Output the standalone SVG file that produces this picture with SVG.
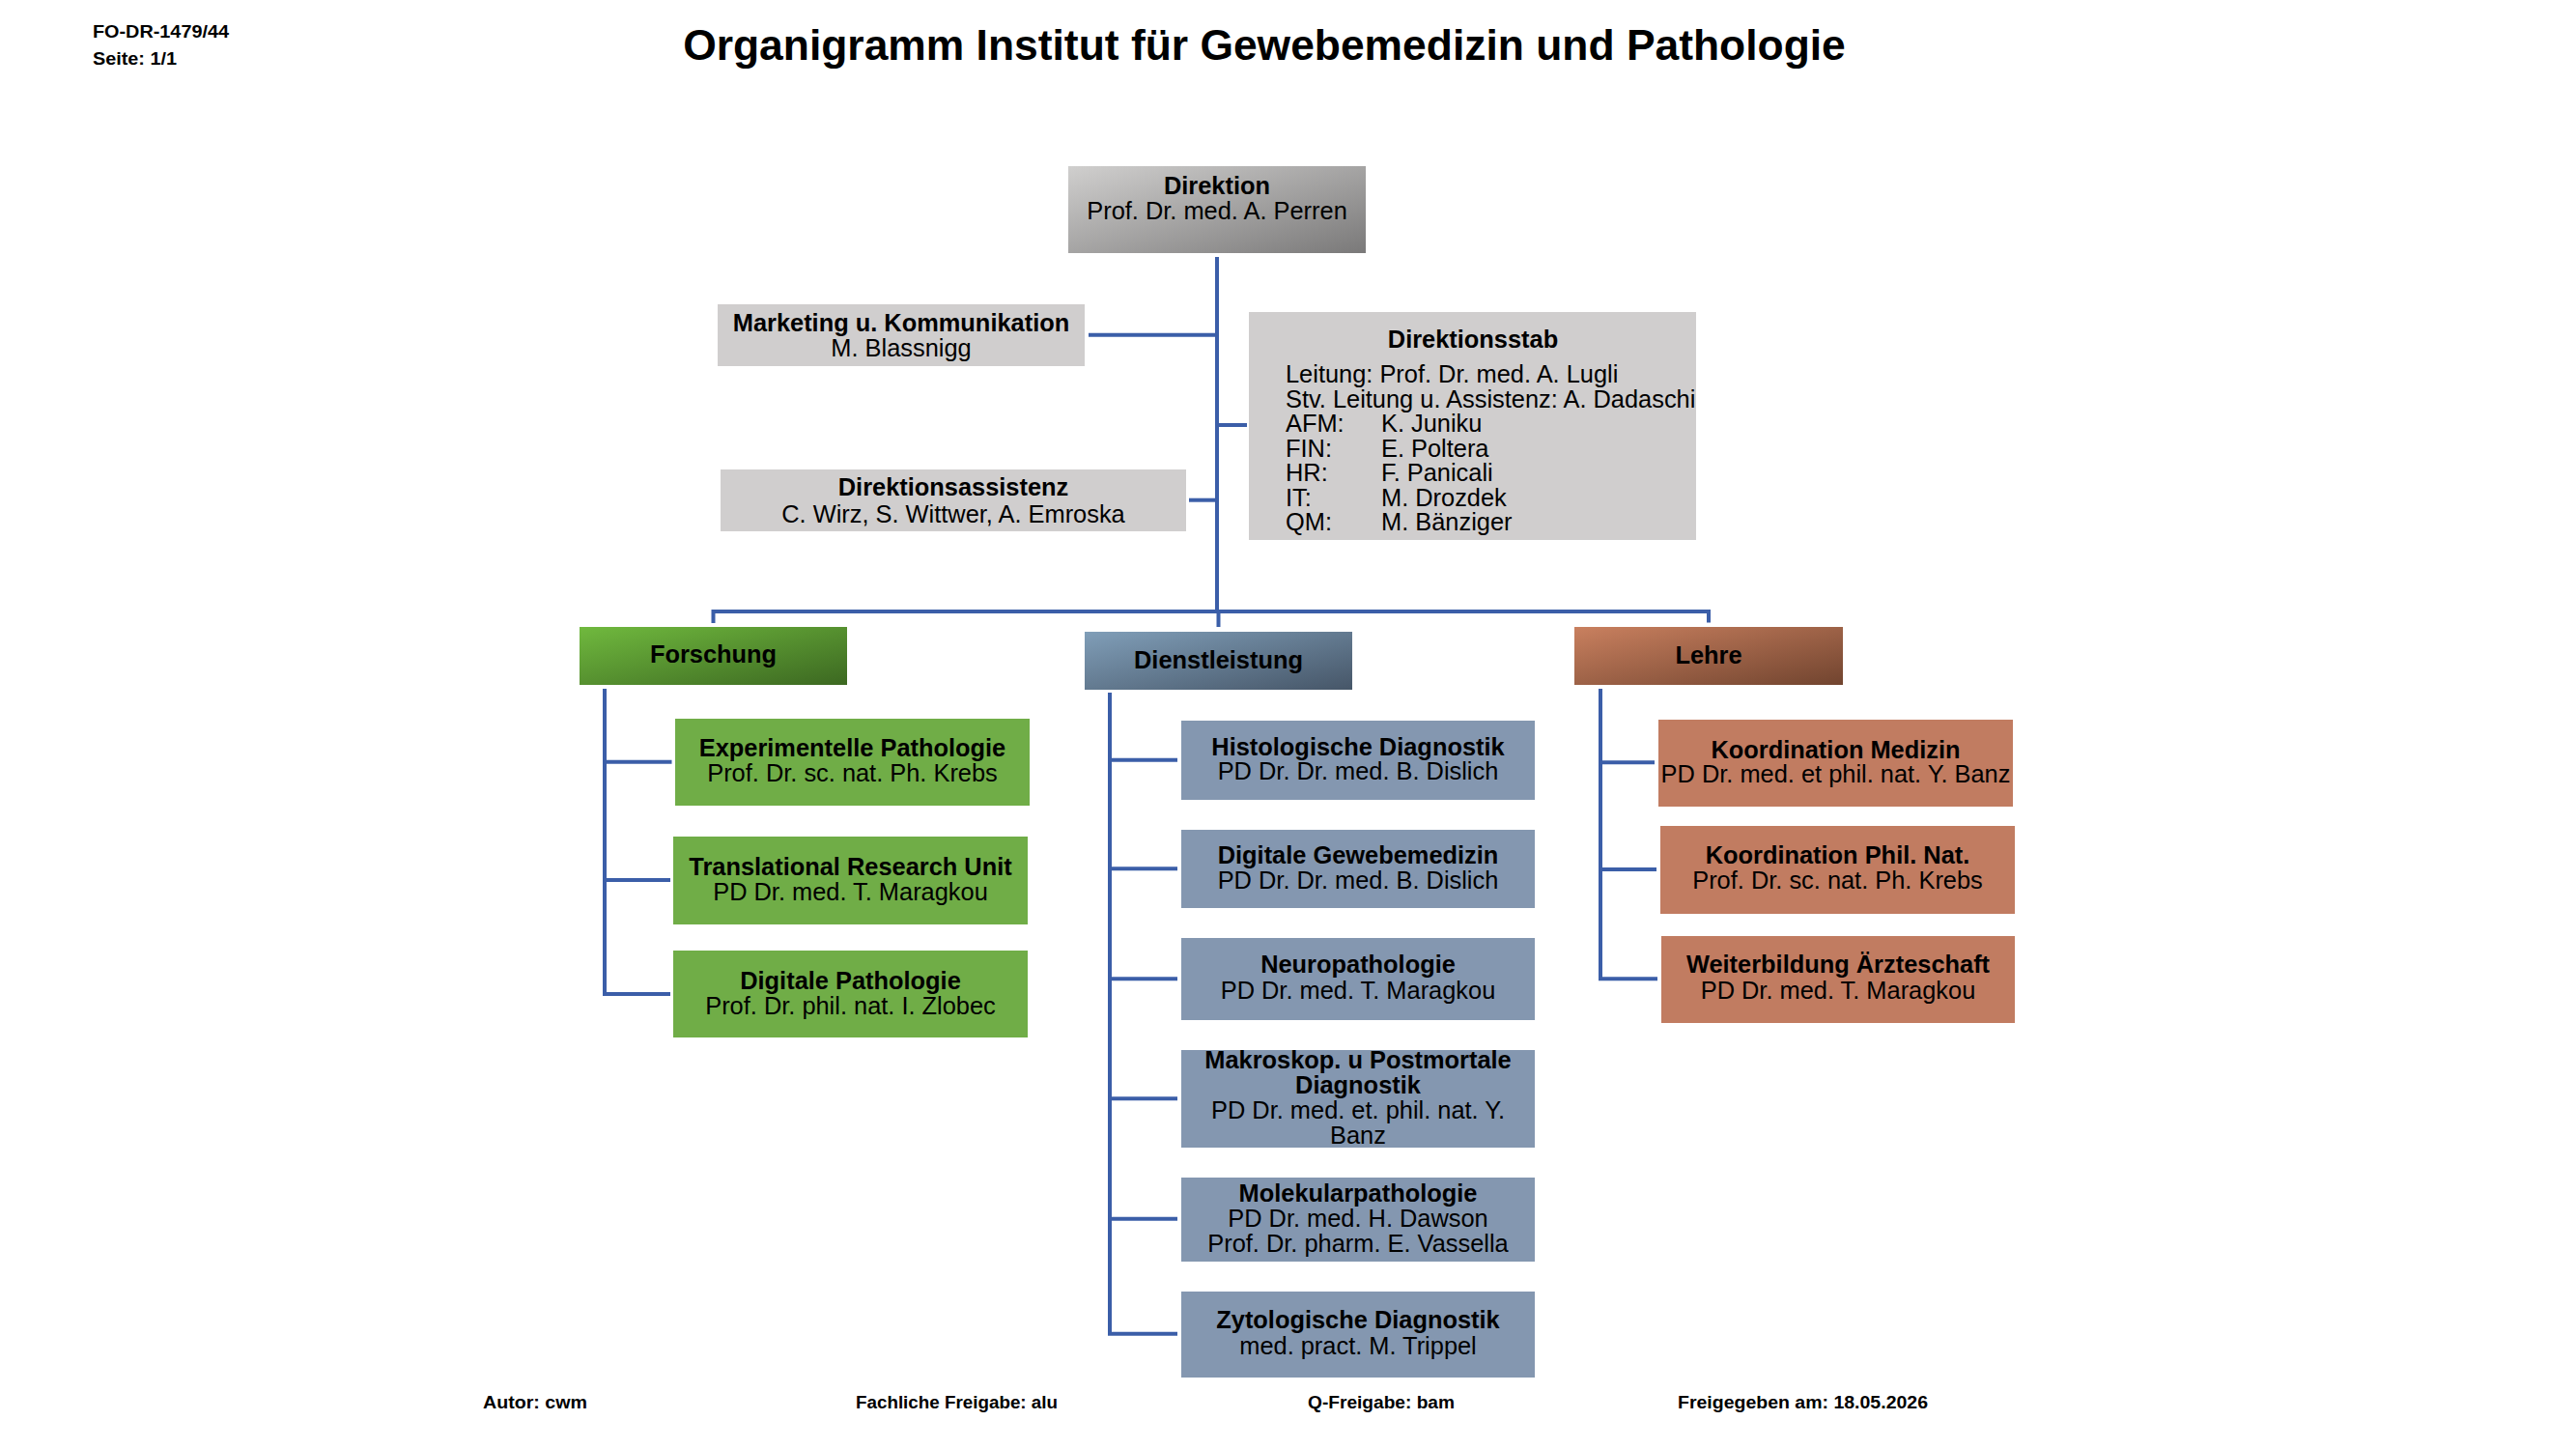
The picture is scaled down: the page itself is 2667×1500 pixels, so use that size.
<svg xmlns="http://www.w3.org/2000/svg" width="2667" height="1500" viewBox="0 0 2667 1500">
<defs>
<linearGradient id="gDir" x1="0" y1="0" x2="1" y2="1"><stop offset="0" stop-color="#d0cfce"/><stop offset="1" stop-color="#7a7979"/></linearGradient>
<linearGradient id="gFor" x1="0" y1="0" x2="1" y2="1"><stop offset="0" stop-color="#70b93e"/><stop offset="1" stop-color="#3c6821"/></linearGradient>
<linearGradient id="gDie" x1="0" y1="0" x2="1" y2="1"><stop offset="0" stop-color="#809eb8"/><stop offset="1" stop-color="#465668"/></linearGradient>
<linearGradient id="gLeh" x1="0" y1="0" x2="1" y2="1"><stop offset="0" stop-color="#c9805f"/><stop offset="1" stop-color="#71442f"/></linearGradient>
</defs>
<style>
text{font-family:"Liberation Sans",Arial,sans-serif;font-size:25.4px;fill:#000;text-anchor:middle}
.b{font-weight:bold}
.l{text-anchor:start}
.hf{font-size:18px;font-weight:bold;text-anchor:start}
.title{font-size:44.4px;font-weight:bold}
.gray{fill:#d0cece}
.green{fill:#70ad47}
.blue{fill:#8497b0}
.orange{fill:#c17c61}
.conn{fill:none;stroke:#3b5ea8;stroke-width:4}
</style>
<rect width="2667" height="1500" fill="#fff"/>
<text class="hf" x="96" y="39" textLength="141" lengthAdjust="spacingAndGlyphs">FO-DR-1479/44</text>
<text class="hf" x="96" y="66.5" textLength="87" lengthAdjust="spacingAndGlyphs">Seite: 1/1</text>
<text class="title" x="1309" y="61.5">Organigramm Institut für Gewebemedizin und Pathologie</text>

<g id="connectors">
<path class="conn" d="M1260,266 V635"/>
<path class="conn" d="M1127,346.7 H1260"/>
<path class="conn" d="M1260,440 H1291"/>
<path class="conn" d="M1231,517.7 H1260"/>
<path class="conn" d="M738.5,645 V633 H1769 V644.5"/>
<path class="conn" d="M1261.5,633 V649"/>
<path class="conn" d="M626,713 V1029 H694"/>
<path class="conn" d="M626,788.7 H695.5"/>
<path class="conn" d="M626,911 H694"/>
<path class="conn" d="M1149,717 V1380.7 H1219"/>
<path class="conn" d="M1149,786.7 H1219"/>
<path class="conn" d="M1149,899.3 H1219"/>
<path class="conn" d="M1149,1013.3 H1219"/>
<path class="conn" d="M1149,1137.3 H1219"/>
<path class="conn" d="M1149,1261.7 H1219"/>
<path class="conn" d="M1657,713 V1013.3 H1716"/>
<path class="conn" d="M1657,789.3 H1713"/>
<path class="conn" d="M1657,900 H1715"/>
</g>

<g id="direktion">
<rect x="1106" y="172" width="308" height="90" fill="url(#gDir)"/>
<text class="b" x="1260" y="200.5">Direktion</text>
<text x="1260" y="227">Prof. Dr. med. A. Perren</text>
</g>
<g id="marketing">
<rect class="gray" x="743" y="315" width="380" height="64"/>
<text class="b" x="933" y="343">Marketing u. Kommunikation</text>
<text x="933" y="368.5">M. Blassnigg</text>
</g>
<g id="direktionsstab">
<rect class="gray" x="1293" y="323" width="463" height="236"/>
<text class="b" x="1525" y="359.5">Direktionsstab</text>
<text class="l" x="1331" y="396">Leitung: Prof. Dr. med. A. Lugli</text>
<text class="l" x="1331" y="421.5">Stv. Leitung u. Assistenz: A. Dadaschi</text>
<text class="l" x="1331" y="447">AFM:<tspan x="1430">K. Juniku</tspan></text>
<text class="l" x="1331" y="472.5">FIN:<tspan x="1430">E. Poltera</tspan></text>
<text class="l" x="1331" y="498">HR:<tspan x="1430">F. Panicali</tspan></text>
<text class="l" x="1331" y="523.5">IT:<tspan x="1430">M. Drozdek</tspan></text>
<text class="l" x="1331" y="549">QM:<tspan x="1430">M. Bänziger</tspan></text>
</g>
<g id="direktionsassistenz">
<rect class="gray" x="746" y="486" width="482" height="64"/>
<text class="b" x="987" y="513">Direktionsassistenz</text>
<text x="987" y="541.3">C. Wirz, S. Wittwer, A. Emroska</text>
</g>

<g id="forschung">
<rect x="600" y="649" width="277" height="60" fill="url(#gFor)"/>
<text class="b" x="738.5" y="686.3">Forschung</text>
</g>
<g id="dienstleistung">
<rect x="1123" y="654" width="277" height="60" fill="url(#gDie)"/>
<text class="b" x="1261.5" y="692">Dienstleistung</text>
</g>
<g id="lehre">
<rect x="1630" y="649" width="278" height="60" fill="url(#gLeh)"/>
<text class="b" x="1769" y="686.8">Lehre</text>
</g>

<g id="exp-pathologie">
<rect class="green" x="699" y="744" width="367" height="90"/>
<text class="b" x="882.5" y="783.3">Experimentelle Pathologie</text>
<text x="882.5" y="809.3">Prof. Dr. sc. nat. Ph. Krebs</text>
</g>
<g id="translational">
<rect class="green" x="697" y="866" width="367" height="91"/>
<text class="b" x="880.5" y="906.3">Translational Research Unit</text>
<text x="880.5" y="932">PD Dr. med. T. Maragkou</text>
</g>
<g id="digitale-pathologie">
<rect class="green" x="697" y="984" width="367" height="90"/>
<text class="b" x="880.5" y="1024">Digitale Pathologie</text>
<text x="880.5" y="1049.6">Prof. Dr. phil. nat. I. Zlobec</text>
</g>

<g id="histologische">
<rect class="blue" x="1223" y="746" width="366" height="82"/>
<text class="b" x="1406" y="782.3">Histologische Diagnostik</text>
<text x="1406" y="807.3">PD Dr. Dr. med. B. Dislich</text>
</g>
<g id="digitale-gewebemedizin">
<rect class="blue" x="1223" y="859" width="366" height="81"/>
<text class="b" x="1406" y="894">Digitale Gewebemedizin</text>
<text x="1406" y="920">PD Dr. Dr. med. B. Dislich</text>
</g>
<g id="neuropathologie">
<rect class="blue" x="1223" y="971" width="366" height="85"/>
<text class="b" x="1406" y="1007.3">Neuropathologie</text>
<text x="1406" y="1033.6">PD Dr. med. T. Maragkou</text>
</g>
<g id="makroskop">
<rect class="blue" x="1223" y="1087" width="366" height="101"/>
<text class="b" x="1406" y="1106.3">Makroskop. u Postmortale</text>
<text class="b" x="1406" y="1132.3">Diagnostik</text>
<text x="1406" y="1158.3">PD Dr. med. et. phil. nat. Y.</text>
<text x="1406" y="1184">Banz</text>
</g>
<g id="molekularpathologie">
<rect class="blue" x="1223" y="1219" width="366" height="87"/>
<text class="b" x="1406" y="1244">Molekularpathologie</text>
<text x="1406" y="1270.3">PD Dr. med. H. Dawson</text>
<text x="1406" y="1296.3">Prof. Dr. pharm. E. Vassella</text>
</g>
<g id="zytologische">
<rect class="blue" x="1223" y="1337" width="366" height="89"/>
<text class="b" x="1406" y="1375.3">Zytologische Diagnostik</text>
<text x="1406" y="1402">med. pract. M. Trippel</text>
</g>

<g id="koordination-medizin">
<rect class="orange" x="1717" y="745" width="367" height="90"/>
<text class="b" x="1900.5" y="784.6">Koordination Medizin</text>
<text x="1900.5" y="809.6">PD Dr. med. et phil. nat. Y. Banz</text>
</g>
<g id="koordination-philnat">
<rect class="orange" x="1719" y="855" width="367" height="91"/>
<text class="b" x="1902.5" y="894">Koordination Phil. Nat.</text>
<text x="1902.5" y="920.3">Prof. Dr. sc. nat. Ph. Krebs</text>
</g>
<g id="weiterbildung">
<rect class="orange" x="1720" y="969" width="366" height="90"/>
<text class="b" x="1903" y="1007.3">Weiterbildung Ärzteschaft</text>
<text x="1903" y="1033.6">PD Dr. med. T. Maragkou</text>
</g>

<text class="hf" x="500" y="1458" textLength="108" lengthAdjust="spacingAndGlyphs">Autor: cwm</text>
<text class="hf" x="886" y="1458" textLength="209" lengthAdjust="spacingAndGlyphs">Fachliche Freigabe: alu</text>
<text class="hf" x="1354" y="1458" textLength="152" lengthAdjust="spacingAndGlyphs">Q-Freigabe: bam</text>
<text class="hf" x="1737" y="1458" textLength="259" lengthAdjust="spacingAndGlyphs">Freigegeben am: 18.05.2026</text>
</svg>
